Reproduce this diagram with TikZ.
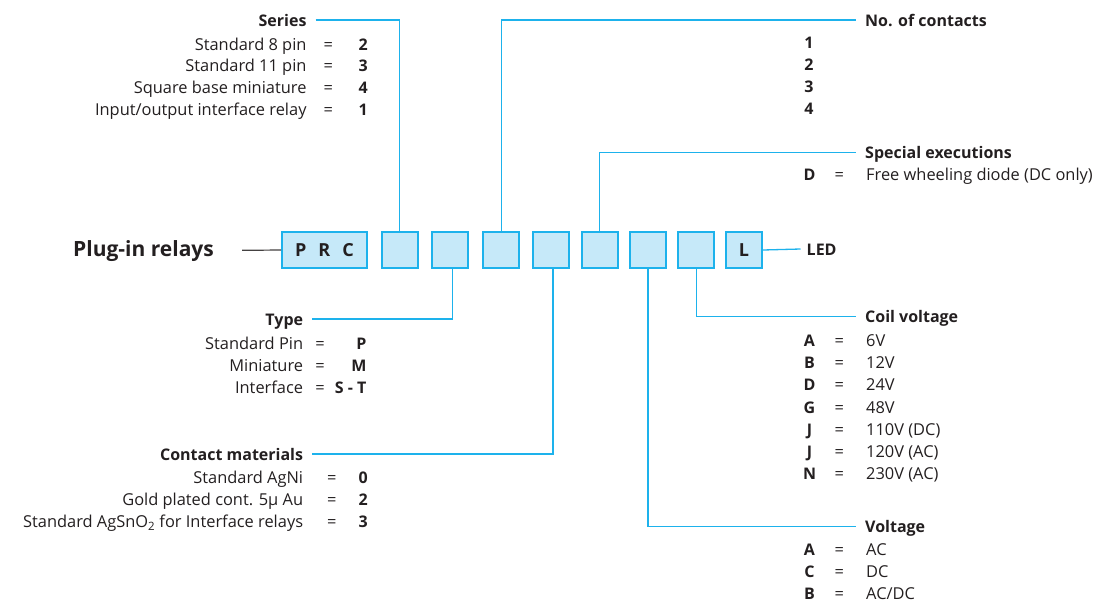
\documentclass[tikz,border=0pt]{standalone}
\usepackage{fontspec}
\setmainfont{Open Sans}
\usepackage{xcolor}
\usepackage{tikz}
\usetikzlibrary{positioning}
\definecolor{gecyan}{HTML}{1DB2EC}
\definecolor{gefill}{HTML}{C6E9F9}
\definecolor{getext}{HTML}{231F20}
\tikzstyle{codebox}=[rectangle, draw=gecyan, fill=gefill, line width=1.7pt,
                     minimum width=36pt, minimum height=36pt, inner sep=0pt,
                     font=\fontsize{18}{20}\selectfont\bfseries, text=getext]
\tikzstyle{heading}=[font=\fontsize{16}{19}\selectfont\bfseries, text=getext,
                     inner xsep=9pt, inner ysep=0pt, text height=12pt, text depth=0pt]
\tikzstyle{keytext}=[font=\fontsize{16.4}{19}\selectfont, text=getext, inner sep=0pt]
\tikzstyle{valtext}=[font=\fontsize{16}{19}\selectfont\bfseries, text=getext, inner sep=0pt]
\tikzstyle{link}   =[draw=gecyan, line width=1.3pt]
\tikzstyle{stem}   =[draw=getext!85, line width=1.2pt]
\begin{document}
\begin{tikzpicture}[x=1pt, y=-1pt]
  \useasboundingbox (0,0) rectangle (1097,606);

  % ── code boxes ──────────────────────────────────────────────────────────────
  \node[codebox, minimum width=85pt] (prc) at (324.5,250) {P\hspace{12pt}R\hspace{12pt}C};
  \node[codebox] (bseries) at (399.7,250) {};
  \node[codebox] (btype)   at (449.7,250) {};
  \node[codebox] (bcont)   at (501.3,250) {};
  \node[codebox] (bmat)    at (551.0,250) {};
  \node[codebox] (bspec)   at (599.7,250) {};
  \node[codebox] (bvolt)   at (648.0,250) {};
  \node[codebox] (bcoil)   at (696.3,250) {};
  \node[codebox] (bled)    at (744.0,250) {L};

  \node[anchor=base west, inner sep=0pt, text=getext,
        font=\fontsize{21}{24}\selectfont\bfseries] (plugin) at (73,256) {Plug-in relays};
  \draw[stem, shorten <=28pt] (plugin.east) -- (prc.west);
  \node[heading, anchor=base west, inner xsep=6pt] (led) at (800.5,255) {LED};
  \draw[link] (bled.east) -- (led.west);

  % ── left side: series, type, contact materials ─────────────────────────────
  \node[heading, anchor=base east] (tseries) at (315.7,26) {Series};
  \draw[link] (tseries.east) -| (bseries.north);
  \foreach \k/\v [count=\i] in {Standard 8 pin/2, Standard 11 pin/3,
      Square base miniature/4, {Input/output interface relay}/1} {
    \node[keytext, anchor=base east] (serk\i) at (306.7,{50+21.8*(\i-1)}) {\k};
    \node[keytext, anchor=base]      (sere\i) at (328.3,{50+21.8*(\i-1)}) {=};
    \node[valtext, anchor=base]      (serv\i) at (363.3,{50+21.8*(\i-1)}) {\v};
  }

  \node[heading, anchor=base east] (ttype) at (312.3,325) {Type};
  \draw[link] (ttype.east) -| ([xshift=2.5pt]btype.south);
  \foreach \k/\v [count=\i] in {Standard Pin/P, Miniature/M, Interface/S - T} {
    \node[keytext, anchor=base east] (typk\i) at (303.3,{349.3+22.1*(\i-1)}) {\k};
    \node[keytext, anchor=base]      (type\i) at (320.0,{349.3+22.1*(\i-1)}) {=};
    \node[valtext, anchor=base east] (typv\i) at (366.7,{349.3+22.1*(\i-1)}) {\v};
  }

  \node[heading, anchor=base east] (tmat) at (312.3,460) {Contact materials};
  \draw[link] (tmat.east) -| ([xshift=2pt]bmat.south);
  \foreach \k/\v [count=\i] in {Standard AgNi/0, Gold plated cont. 5µ Au/2,
      Standard AgSnO\textsubscript{2} for Interface relays/3} {
    \node[keytext, anchor=base east] (matk\i) at (303.3,{483.3+22.2*(\i-1)}) {\k};
    \node[keytext, anchor=base]      (mate\i) at (331.7,{483.3+22.2*(\i-1)}) {=};
    \node[valtext, anchor=base]      (matv\i) at (363.3,{483.3+22.2*(\i-1)}) {\v};
  }

  % ── right side: contacts, special executions, coil voltage, voltage ────────
  \node[heading, anchor=base west] (tcont) at (856,26) {No. of contacts};
  \draw[link] (bcont.north) |- (tcont.west);
  \foreach \v [count=\i] in {1,2,3,4}
    \node[valtext, anchor=base] (contv\i) at (809,{48.3+22*(\i-1)}) {\v};

  \node[heading, anchor=base west] (tspec) at (856,158.3) {Special executions};
  \draw[link] (bspec.north) |- (tspec.west);
  \node[valtext, anchor=base]      (speck) at (809.5,180) {D};
  \node[keytext, anchor=base]      (spece) at (839.3,180) {=};
  \node[keytext, anchor=base west] (specv) at (866,180) {Free wheeling diode (DC only)};

  \node[heading, anchor=base west] (tcoil) at (856,322.7) {Coil voltage};
  \draw[link] (bcoil.south) |- (tcoil.west);
  \foreach \k/\v [count=\i] in {A/6V, B/12V, D/24V, G/48V, J/110V (DC),
      J/120V (AC), N/230V (AC)} {
    \node[valtext, anchor=base]      (coilk\i) at (809.5,{346.7+22.1*(\i-1)}) {\k};
    \node[keytext, anchor=base]      (coile\i) at (839.3,{346.7+22.1*(\i-1)}) {=};
    \node[keytext, anchor=base west] (coilv\i) at (866,{346.7+22.1*(\i-1)}) {\v};
  }

  \node[heading, anchor=base west] (tvolt) at (856,532.7) {Voltage};
  \draw[link] (bvolt.south) |- (tvolt.west);
  \foreach \k/\v [count=\i] in {A/AC, C/DC, B/{AC/DC}} {
    \node[valtext, anchor=base]      (voltk\i) at (809.5,{555+22.2*(\i-1)}) {\k};
    \node[keytext, anchor=base]      (volte\i) at (839.3,{555+22.2*(\i-1)}) {=};
    \node[keytext, anchor=base west] (voltv\i) at (866,{555+22.2*(\i-1)}) {\v};
  }

\end{tikzpicture}
\end{document}
